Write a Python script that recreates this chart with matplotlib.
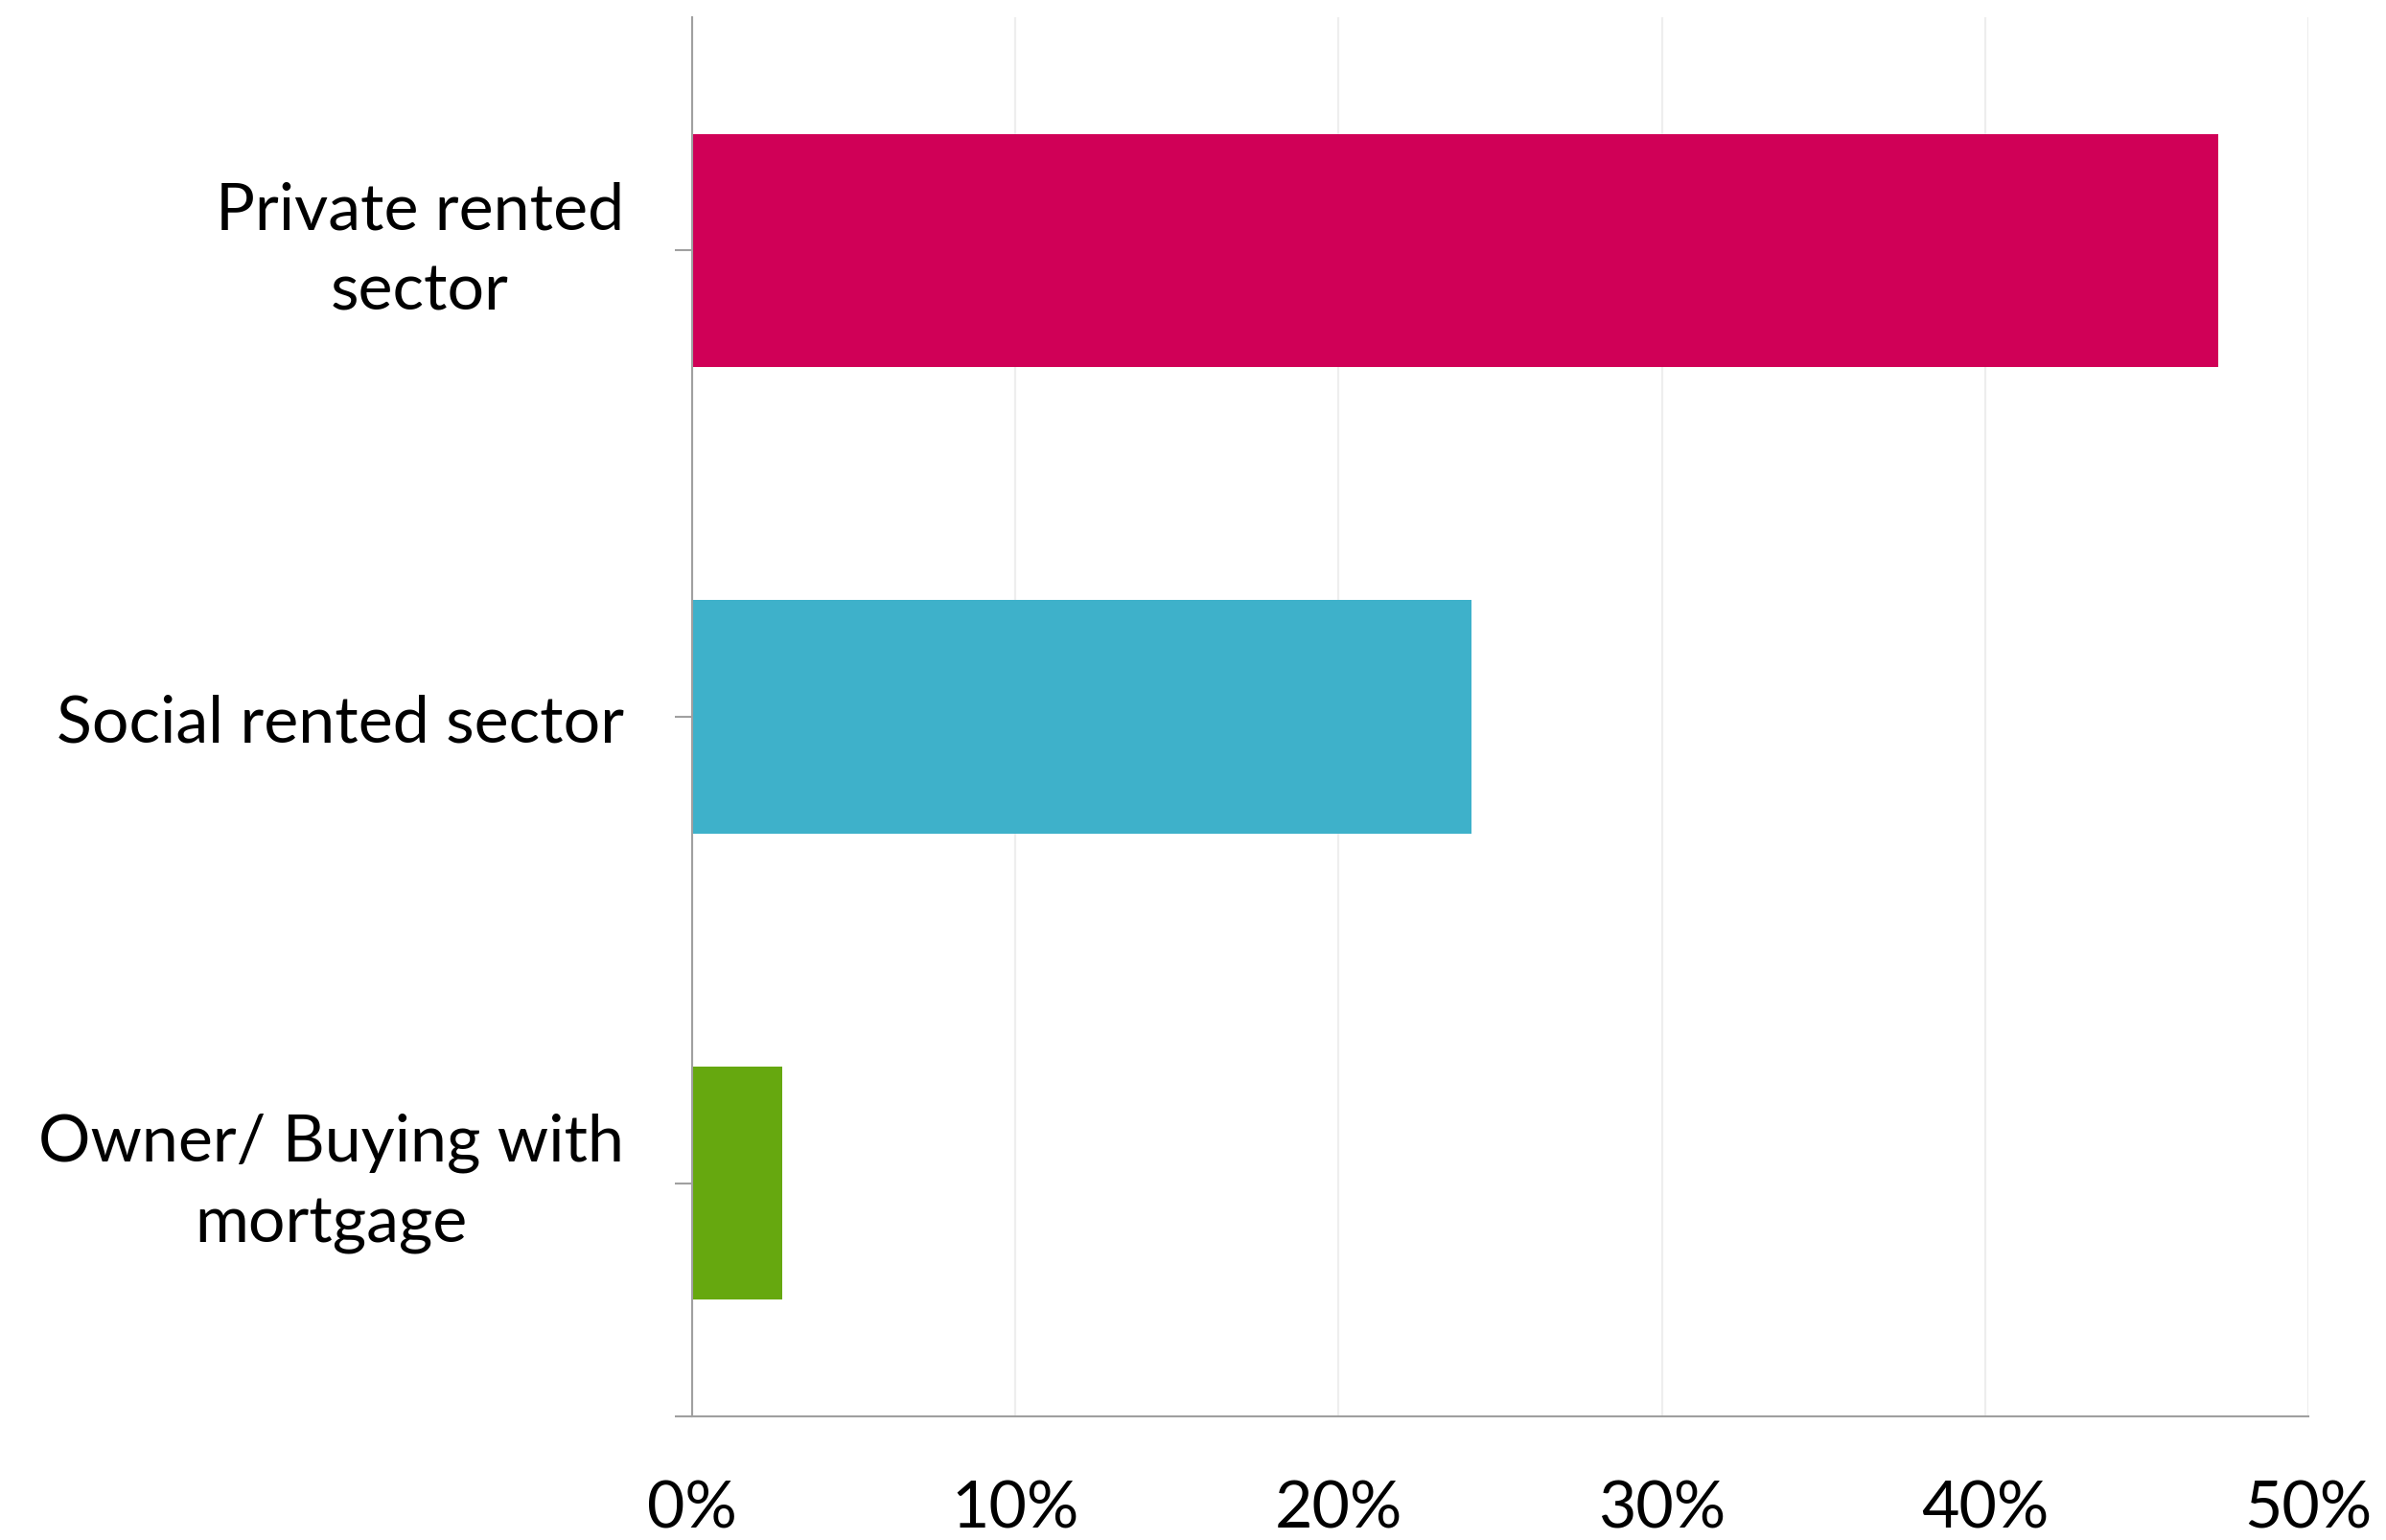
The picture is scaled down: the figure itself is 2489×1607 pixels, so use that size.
import matplotlib.pyplot as plt
import numpy as np
from matplotlib.ticker import FixedLocator

categories = ['Private rented\nsector', 'Social rented sector', 'Owner/ Buying with\nmortgage']
values = [47.2, 24.1, 2.8]
colors = ['#D00057', '#3EB1CA', '#66A80F']
xticks = [0, 10, 20, 30, 40, 50]

plt.rcParams['font.family'] = ['Lato', 'DejaVu Sans']

fig = plt.figure(figsize=(24.89, 16.08), dpi=100)
ax = fig.add_axes([0.290, 0.0802, 0.6775, 0.908])

y = np.arange(len(categories))
ax.barh(y, values, height=0.5, color=colors, zorder=3)

ax.set_xlim(0, 50)
ax.set_ylim(len(categories) - 0.5, -0.5)

# gridlines
ax.set_xticks(xticks)
ax.set_xticklabels([f'{t}%' for t in xticks])
ax.xaxis.grid(True, color='#EEEEEE', linewidth=1.6, zorder=0)
ax.tick_params(axis='x', length=0, pad=47, labelsize=49)

ax.set_yticks(y)
ax.set_yticklabels(categories, multialignment='center')
ax.yaxis.set_minor_locator(FixedLocator([len(categories) - 0.5]))
ax.tick_params(axis='y', which='both', length=13, width=1.5, color='#A0A0A0',
               pad=38, labelsize=49)

for s in ['top', 'right']:
    ax.spines[s].set_visible(False)
for s in ['left', 'bottom']:
    ax.spines[s].set_color('#A0A0A0')
    ax.spines[s].set_linewidth(1.5)
    ax.spines[s].set_zorder(4)

for lbl in ax.get_yticklabels():
    lbl.set_linespacing(1.45)
    if '\n' in lbl.get_text():
        lbl.set_verticalalignment('center')

fig.savefig('out.png', dpi=100)
